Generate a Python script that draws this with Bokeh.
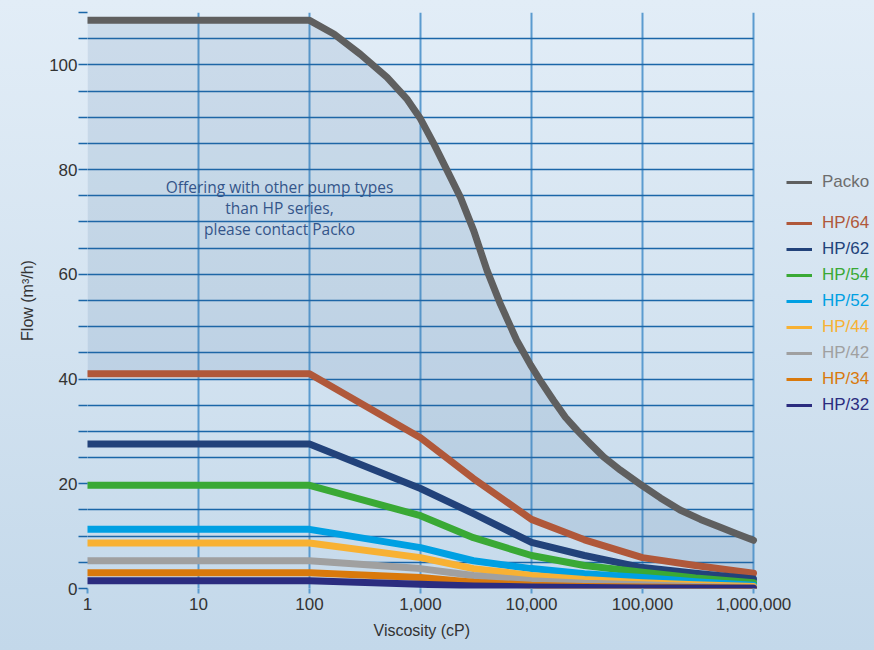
import numpy as np
from bokeh.plotting import figure
from bokeh.models import (Range1d, FixedTicker, NumeralTickFormatter, CustomJSTickFormatter,
                          Legend, LegendItem, Label, Grid, Title)
from bokeh.embed import file_html
from bokeh.resources import INLINE

# ---------------- data ----------------
visc_packo = [1, 100, 166, 288, 500, 760, 1000, 1320, 1740, 2290, 3020, 3980, 5250, 7400,
              9800, 12000, 15800, 20200, 25800, 34000, 44700, 63300, 95700, 145000, 218000,
              333000, 502000, 713000, 1000000]
flow_packo = [108.5, 108.5, 105.9, 102.0, 97.6, 93.4, 89.7, 84.9, 79.8, 74.7, 68.3, 60.7, 54.3, 47.3,
              42.7, 39.7, 35.9, 32.7, 30.2, 27.6, 25.1, 22.6, 19.9, 17.3, 15.0,
              13.2, 11.7, 10.4, 9.2]

visc_hp = [1, 100, 1000, 3000, 10000, 30000, 100000, 300000, 1000000]
flow_hp64 = [41.0, 41.0, 28.8, 21.0, 13.2, 9.3, 5.9, 4.4, 2.9]
flow_hp62 = [27.6, 27.6, 19.1, 14.3, 8.8, 6.3, 4.0, 2.9, 1.8]
flow_hp54 = [19.7, 19.7, 13.9, 9.7, 6.3, 4.4, 3.1, 2.0, 1.1]
flow_hp52 = [11.3, 11.3, 7.8, 5.3, 3.8, 2.8, 2.1, 1.3, 0.6]
flow_hp44 = [8.7, 8.7, 5.9, 3.8, 2.5, 1.7, 1.1, 0.7, 0.4]
flow_hp42 = [5.3, 5.3, 3.8, 2.5, 1.5, 1.0, 0.7, 0.4, 0.2]
flow_hp34 = [3.0, 3.0, 2.1, 1.2, 0.6, 0.4, 0.3, 0.2, 0.1]
flow_hp32 = [1.5, 1.5, 0.8, 0.5, 0.3, 0.2, 0.1, 0.1, 0.05]

series_names = ["HP/64", "HP/62", "HP/54", "HP/52", "HP/44", "HP/42", "HP/34", "HP/32"]
series_flows = [flow_hp64, flow_hp62, flow_hp54, flow_hp52, flow_hp44, flow_hp42, flow_hp34, flow_hp32]
series_colors = ["#b0583a", "#22427a", "#3aa935", "#00a0e3", "#f8b133", "#a0a0a0", "#d9790c", "#2b2c7f"]
packo_color = "#5f5f5f"

x_ticks = [1, 10, 100, 1000, 10000, 100000, 1000000]
y_ticks = list(range(0, 115, 5))

note_lines = ["Offering with other pump types", "than HP series,", "please contact Packo"]

# ---------------- layout ----------------
W, H = 874, 650
LEFT, TOP, BOTTOM = 87, 12, 62
PX_PER_DECADE = 111.0
X_MIN, X_MAX_DATA = 1, 1000000
frame_w = W - LEFT
x_end = 10 ** (frame_w / PX_PER_DECADE)   # frame continues to the right to host the legend

FONT = "Liberation Sans"
p = figure(width=W, height=H, x_axis_type="log",
           x_range=Range1d(X_MIN, x_end), y_range=Range1d(0, 110),
           output_backend="svg", toolbar_location=None,
           min_border_left=LEFT, min_border_right=0, min_border_top=TOP, min_border_bottom=BOTTOM)
p.background_fill_alpha = 0
p.border_fill_alpha = 0
p.outline_line_color = None
p.styles = {"background": "linear-gradient(to bottom, #e2edf7 0%, #d5e4f1 45%, #c3d8ea 100%)"}

# grids
p.xgrid.ticker = FixedTicker(ticks=x_ticks)
p.xgrid.grid_line_color = "#5b9bcf"
p.xgrid.grid_line_width = 2
p.ygrid.ticker = FixedTicker(ticks=y_ticks)
p.ygrid.grid_line_color = "#1a66a8"
p.ygrid.grid_line_width = 1.3
if "cross_bounds" in Grid.properties():
    p.ygrid.cross_bounds = (X_MIN, X_MAX_DATA)
else:
    p.ygrid.grid_line_color = None
    p.segment(x0=[X_MIN] * len(y_ticks), y0=y_ticks, x1=[X_MAX_DATA] * len(y_ticks), y1=y_ticks,
              line_color="#1a66a8", line_width=1.3)

# x axis
xa = p.xaxis[0]
xa.ticker = FixedTicker(ticks=x_ticks)
xa.formatter = NumeralTickFormatter(format="0,0")
xa.axis_line_color = None
xa.major_tick_line_color = "#5b9bcf"
xa.major_tick_line_width = 2
xa.major_tick_out = 5
xa.major_tick_in = 0
xa.minor_tick_line_color = None
xa.major_label_standoff = 4
xa.major_label_text_font = FONT
xa.major_label_text_font_size = "17px"
xa.major_label_text_color = "#333333"

# x axis title, centred under the 1 .. 1,000,000 span
x_title = Title(text="Viscosity (cP)", align="left", offset=286, standoff=14,
                text_font=FONT, text_font_style="normal", text_font_size="16px", text_color="#333333")
p.add_layout(x_title, "below")

# y axis
ya = p.yaxis[0]
ya.ticker = FixedTicker(ticks=y_ticks)
ya.formatter = CustomJSTickFormatter(code="return (tick % 20 == 0 && tick <= 100) ? tick.toFixed(0) : '';")
ya.axis_line_color = None
ya.major_tick_line_color = "#1a66a8"
ya.major_tick_line_width = 1.3
ya.major_tick_out = 9
ya.major_tick_in = 0
ya.minor_tick_line_color = None
ya.major_label_standoff = 1
ya.major_label_text_font = FONT
ya.major_label_text_font_size = "17px"
ya.major_label_text_color = "#333333"
ya.axis_label = "Flow (m\u00b3/h)"
ya.axis_label_text_font = FONT
ya.axis_label_text_font_style = "normal"
ya.axis_label_text_font_size = "16px"
ya.axis_label_text_color = "#333333"
ya.axis_label_standoff = 10

# shaded area between Packo curve and HP/64
patch_x = visc_packo + visc_hp[::-1]
patch_y = flow_packo + flow_hp64[::-1]
p.patch(patch_x, patch_y, fill_color="#3d6a9c", fill_alpha=0.13, line_color=None)

# note text
for i, t in enumerate(note_lines):
    p.add_layout(Label(x=53.7, y=76.7 - 4.0 * i, text=t, text_align="center", text_baseline="middle",
                       text_font="Open Sans", text_font_size="15.5px", text_color="#34558a"))

# curves
p.line(visc_packo, flow_packo, line_color=packo_color, line_width=7, line_cap="round", line_join="round")
for flows, col in zip(series_flows, series_colors):
    p.line(visc_hp, flows, line_color=col, line_width=7, line_cap="round", line_join="round")

# legends (one per item so each label has its own colour); thin proxy lines draw nothing in the plot
legend_entries = [("Packo", packo_color, "#6d6d6d")] + [(n, c, c) for n, c in zip(series_names, series_colors)]
frame_bottom = H - BOTTOM
for i, (name, col, tcol) in enumerate(legend_entries):
    yc = 182 if i == 0 else 223 + 26 * (i - 1)
    proxy = p.line(x=np.array([1.0, 1.0]), y=np.array([np.nan, np.nan]), line_color=col, line_width=3)
    leg = Legend(items=[LegendItem(label=name, renderers=[proxy])],
                 location=(786 - LEFT, frame_bottom - (yc + 10)),
                 padding=0, margin=0, spacing=0, border_line_color=None, background_fill_alpha=0,
                 glyph_width=26, glyph_height=20, label_height=20, label_standoff=10,
                 label_text_font=FONT, label_text_font_size="17px", label_text_color=tcol)
    p.add_layout(leg)

open("out.html", "w").write(file_html(p, INLINE))
